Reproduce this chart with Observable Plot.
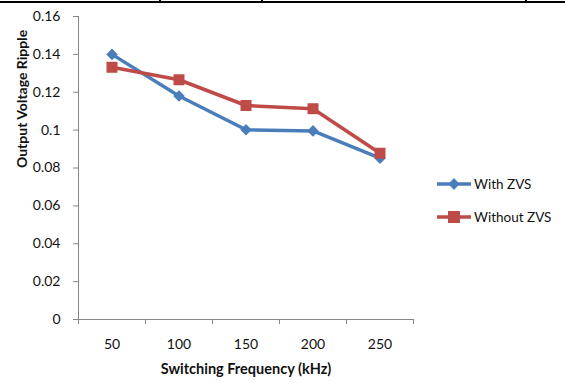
<!DOCTYPE html>
<html>
<head>
<meta charset="utf-8">
<script src="https://cdn.jsdelivr.net/npm/d3@7"></script>
<script src="https://cdn.jsdelivr.net/npm/@observablehq/plot@0.6"></script>
<style>
  html, body { margin: 0; padding: 0; background: #fff; }
  #wrap { position: relative; width: 565px; height: 383px; font-family: Lato, "Liberation Sans", sans-serif; }
  .topline { position: absolute; left: 0; top: 1px; width: 565px; height: 2px; background: #000; }
  .vline { position: absolute; top: 0; width: 2px; height: 3px; background: #000; }
  .legend { position: absolute; left: 437px; top: 176px; font-size: 13.5px; color: #111; }
  .item { display: flex; align-items: center; height: 16px; margin-bottom: 17px; }
  .item svg { margin-right: 3px; }
</style>
</head>
<body>
<div id="wrap"></div>
<script>
const categories = [50, 100, 150, 200, 250];
const series = ["With ZVS", "Without ZVS"];
const withZVS = [0.1400, 0.1180, 0.1002, 0.0996, 0.0852];
const withoutZVS = [0.1332, 0.1266, 0.1130, 0.1113, 0.0878];
const yTicks = [0, 0.02, 0.04, 0.06, 0.08, 0.1, 0.12, 0.14, 0.16];
const xBoundaryTicks = [25, 75, 125, 175, 225, 275];
const colors = ["#4a7ebb", "#be4b48"];
const symbols = ["diamond2", "square"];

const data = [];
categories.forEach((f, i) => {
  data.push({freq: f, value: withZVS[i], series: series[0]});
});
categories.forEach((f, i) => {
  data.push({freq: f, value: withoutZVS[i], series: series[1]});
});

const chart = Plot.plot({
  width: 565,
  height: 383,
  marginLeft: 78,
  marginRight: 152,
  marginTop: 16,
  marginBottom: 64,
  style: {fontFamily: "Lato, 'Liberation Sans', sans-serif", fontSize: "14px", color: "#111", background: "transparent"},
  x: {domain: [25, 275]},
  y: {domain: [0, 0.16]},
  color: {domain: series, range: colors},
  symbol: {domain: series, range: symbols},
  marks: [
    Plot.ruleX([25], {stroke: "#868686", strokeWidth: 1}),
    Plot.ruleY([0], {stroke: "#868686", strokeWidth: 1}),
    Plot.axisY({ticks: yTicks, tickFormat: d => String(d), tickSize: 5, tickPadding: 13, stroke: "#868686", fill: "#111", label: null}),
    Plot.axisX({ticks: xBoundaryTicks, tickFormat: () => "", tickSize: 5, stroke: "#868686", label: null}),
    Plot.axisX({ticks: categories, tickSize: 0, tickPadding: 20, fill: "#111", label: null}),
    Plot.text(["Output Voltage Ripple"], {frameAnchor: "left", rotate: -90, dx: -56, fontWeight: "bold", fontSize: 14, fill: "#111"}),
    Plot.text(["Switching Frequency (kHz)"], {frameAnchor: "bottom", dy: 54, fontWeight: "bold", fontSize: 14.5, fill: "#111"}),
    Plot.line(data, {x: "freq", y: "value", z: "series", stroke: "series", strokeWidth: 3.5}),
    Plot.dot(data.filter(d => d.series === series[0]), {x: "freq", y: "value", symbol: "series", fill: "series", r: 5.2}),
    Plot.dot(data.filter(d => d.series === series[1]), {x: "freq", y: "value", symbol: "series", fill: "series", r: 6.2})
  ]
});

const wrap = document.getElementById("wrap");
wrap.appendChild(chart);

const topLine = document.createElement("div");
topLine.className = "topline";
wrap.appendChild(topLine);
[160, 262, 526].forEach(x => {
  const v = document.createElement("div");
  v.className = "vline";
  v.style.left = (x - 1) + "px";
  wrap.appendChild(v);
});

const legend = document.createElement("div");
legend.className = "legend";
series.forEach((s, i) => {
  const item = document.createElement("div");
  item.className = "item";
  const marker = i === 0
    ? `<path d="M17,2 L22.5,8 L17,14 L11.5,8 Z" fill="${colors[i]}"/>`
    : `<rect x="11" y="2" width="12" height="12" fill="${colors[i]}"/>`;
  item.innerHTML = `<svg width="34" height="16"><line x1="0" y1="8" x2="34" y2="8" stroke="${colors[i]}" stroke-width="3.5"/>${marker}</svg><span>${s}</span>`;
  legend.appendChild(item);
});
wrap.appendChild(legend);
</script>
</body>
</html>
